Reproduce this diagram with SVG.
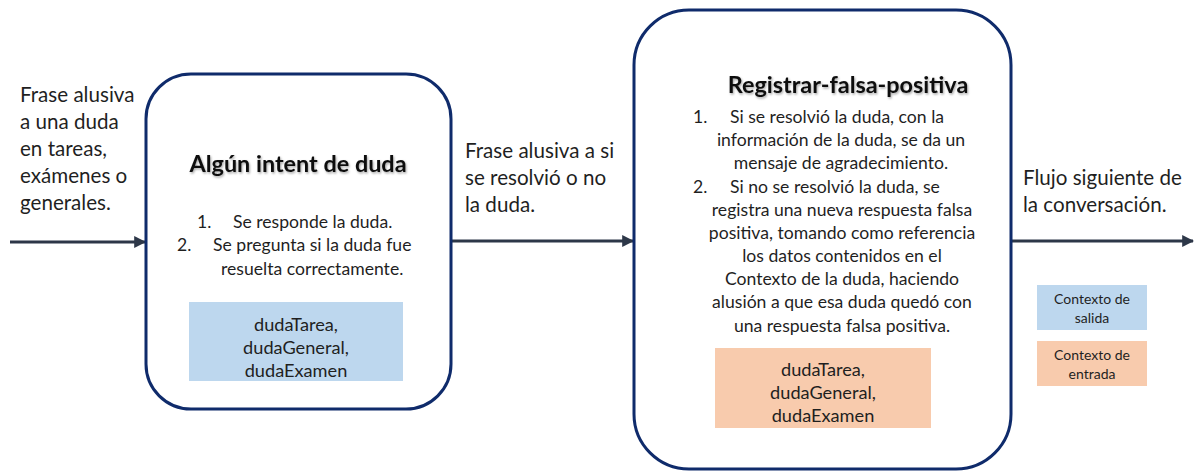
<svg xmlns="http://www.w3.org/2000/svg" width="1194" height="472" viewBox="0 0 1194 472">
<defs>
<style>
.t{font-family:Lato,"Open Sans","Liberation Sans",sans-serif;fill:#1f1f1f}
.lbl{font-size:20.6px}
.li{font-size:17.6px}
.bx{font-size:18.2px}
.ttl{font-size:23.4px;font-weight:bold;fill:#111}
.box{fill:#fff;stroke:#0f2b6b;stroke-width:3}
.conn{stroke:#2d3748;stroke-width:3;fill:none;marker-end:url(#ah)}
.leg{font-size:14px}
</style>
<marker id="ah" viewBox="0 0 10 10" refX="9" refY="5" markerWidth="4" markerHeight="4" orient="auto" markerUnits="strokeWidth">
<path d="M0,0 L10,5 L0,10 z" fill="#2d3748"/>
</marker>
<filter id="sh" x="-5%" y="-20%" width="110%" height="140%">
<feDropShadow dx="1" dy="1.5" stdDeviation="1" flood-color="#000" flood-opacity="0.35"/>
</filter>
</defs>
<g id="connectors">
<line class="conn" x1="10" y1="242" x2="145" y2="242"/>
<line class="conn" x1="452" y1="241" x2="633" y2="241"/>
<line class="conn" x1="1012" y1="241" x2="1193" y2="241"/>
</g>
<g id="label-in" class="t lbl">
<text x="20" y="102">Frase alusiva</text>
<text x="20" y="129">a una duda</text>
<text x="20" y="156">en tareas,</text>
<text x="20" y="183">exámenes o</text>
<text x="20" y="210">generales.</text>
</g>
<g id="node-algun">
<rect class="box" x="146" y="74" width="305" height="335" rx="45"/>
<text class="t ttl" x="298" y="172" text-anchor="middle" filter="url(#sh)">Algún intent de duda</text>
<g class="t li">
<text x="197" y="228">1.</text>
<text x="233" y="228">Se responde la duda.</text>
<text x="177" y="251">2.</text>
<text x="213" y="251">Se pregunta si la duda fue</text>
<text x="221" y="275">resuelta correctamente.</text>
</g>
<rect x="189" y="302" width="214" height="79" fill="#bdd7ee"/>
<g class="t bx" text-anchor="middle">
<text x="296" y="331">dudaTarea,</text>
<text x="296" y="354">dudaGeneral,</text>
<text x="296" y="377">dudaExamen</text>
</g>
</g>
<g id="label-mid" class="t lbl">
<text x="465" y="158">Frase alusiva a si</text>
<text x="465" y="185">se resolvió o no</text>
<text x="465" y="212">la duda.</text>
</g>
<g id="node-registrar">
<rect class="box" x="634" y="10" width="377" height="459" rx="55"/>
<text class="t ttl" x="848" y="93" text-anchor="middle" filter="url(#sh)">Registrar-falsa-positiva</text>
<g class="t li">
<text x="693" y="123">1.</text>
<text x="730" y="123">Si se resolvió la duda, con la</text>
<text x="693" y="193">2.</text>
<text x="730" y="193">Si no se resolvió la duda, se</text>
</g>
<g class="t li" text-anchor="middle">
<text x="841" y="146">información de la duda, se da un</text>
<text x="841" y="169">mensaje de agradecimiento.</text>
<text x="842" y="216">registra una nueva respuesta falsa</text>
<text x="842" y="239">positiva, tomando como referencia</text>
<text x="842" y="262">los datos contenidos en el</text>
<text x="842" y="285">Contexto de la duda, haciendo</text>
<text x="842" y="308">alusión a que esa duda quedó con</text>
<text x="842" y="332">una respuesta falsa positiva.</text>
</g>
<rect x="715" y="348" width="216" height="80" fill="#f8cbad"/>
<g class="t bx" text-anchor="middle">
<text x="823" y="376">dudaTarea,</text>
<text x="823" y="399">dudaGeneral,</text>
<text x="823" y="422">dudaExamen</text>
</g>
</g>
<g id="label-out" class="t lbl">
<text x="1023" y="185">Flujo siguiente de</text>
<text x="1023" y="212">la conversación.</text>
</g>
<g id="legend-salida">
<rect x="1037" y="285" width="110" height="45" fill="#bdd7ee"/>
<g class="t leg" text-anchor="middle">
<text x="1092" y="304">Contexto de</text>
<text x="1092" y="323">salida</text>
</g>
</g>
<g id="legend-entrada">
<rect x="1037" y="341" width="110" height="45" fill="#f8cbad"/>
<g class="t leg" text-anchor="middle">
<text x="1092" y="360">Contexto de</text>
<text x="1092" y="379">entrada</text>
</g>
</g>
</svg>
